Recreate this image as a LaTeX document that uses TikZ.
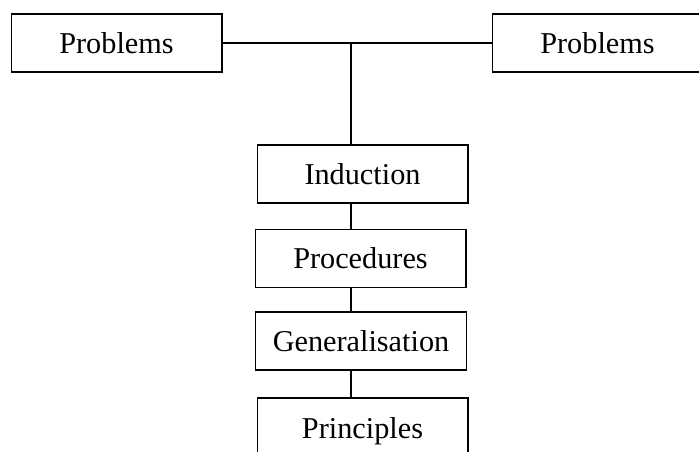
\documentclass[tikz,border=0pt]{standalone}
\usepackage{fontspec}
\setmainfont{Liberation Serif}

\tikzset{
	stage/.style={draw, line width=1pt, minimum width=158pt, minimum height=43.5pt, inner sep=0pt, font=\fontsize{22.7}{27}\selectfont},
	link/.style={line width=1pt}
}

\begin{document}
\begin{tikzpicture}[x=0.75pt, y=-0.75pt]
		\useasboundingbox (0, 0) rectangle (699, 452);
		\clip (0, 0) rectangle (699, 452);
		
		\node[stage] (problemsL) at (116.5, 43) {Problems};
		\node[stage] (problemsR) at (597.5, 43) {Problems};
		
		\node[stage] (induction) at (362.5, 174) {Induction};
		\node[stage] (procedures) at (360.5, 258.5) {Procedures};
		\node[stage] (generalisation) at (361, 341) {Generalisation};
		\node[stage, minimum height=49.5pt] (principles) at (362.5, 431) {Principles};
		
		\coordinate (join) at (351, 43);
		
		\draw[link] (problemsL.east) -- (problemsR.west);
		\draw[link] (join) -- (join |- induction.north);
		\draw[link] (join |- induction.south) -- (join |- procedures.north);
		\draw[link] (join |- procedures.south) -- (join |- generalisation.north);
		\draw[link] (join |- generalisation.south) -- (join |- principles.north);
	\end{tikzpicture}
\end{document}
